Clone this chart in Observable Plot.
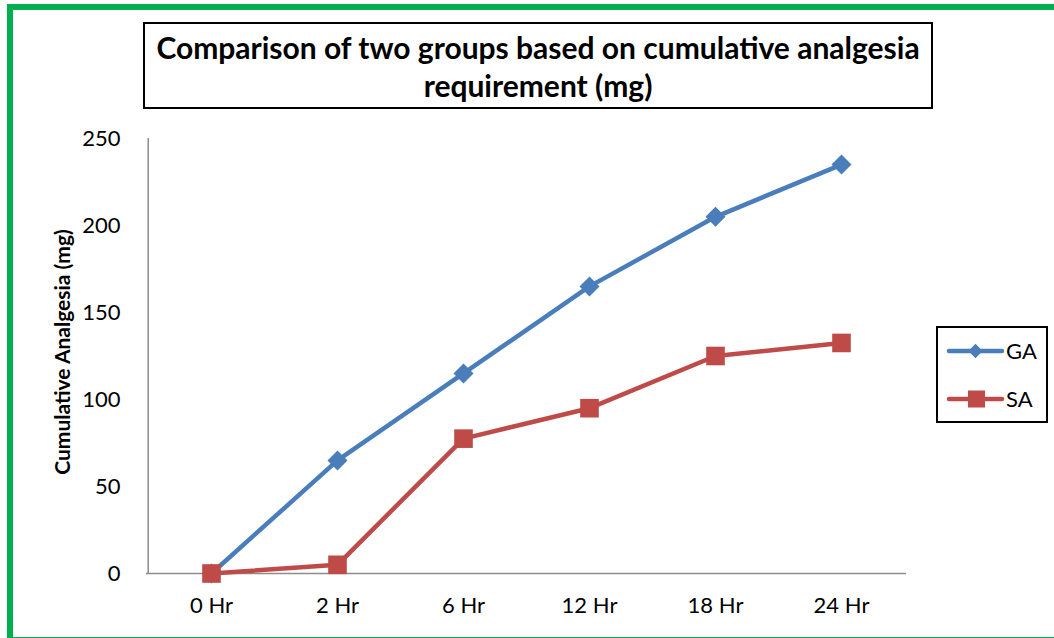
<!DOCTYPE html>
<html>
<head>
<meta charset="utf-8">
<script src="https://cdn.jsdelivr.net/npm/d3@7"></script>
<script src="https://cdn.jsdelivr.net/npm/@observablehq/plot@0.6"></script>
<style>
  html, body { margin: 0; padding: 0; background: #fff; }
  #wrap { position: relative; width: 1054px; height: 638px; overflow: hidden; font-family: Lato, "Open Sans", sans-serif; }
  #frame { position: absolute; left: 7px; top: 4px; width: 1100px; height: 627px; border-top: 6px solid #00b050; border-left: 6px solid #00b050; border-bottom: 2px solid #00b050; }
  #title { position: absolute; left: 143px; top: 22px; width: 786px; height: 83px; border: 2px solid #000; box-sizing: content-box; display: flex; align-items: center; justify-content: center; text-align: center; font-weight: bold; font-size: 30px; line-height: 38px; color: #000; white-space: nowrap; }
  #legend { position: absolute; left: 936px; top: 326px; width: 108px; height: 93px; border: 2px solid #000; }
  #chart { position: absolute; left: 0; top: 0; }
  #ylabel { position: absolute; left: 61px; top: 352px; transform: translate(-50%, -50%) rotate(-90deg); white-space: nowrap; font-weight: bold; font-size: 21px; color: #000; }
</style>
</head>
<body>
<div id="wrap">
  <div id="frame"></div>
  <div id="chart"></div>
  <div id="title">Comparison of two groups based on cumulative analgesia<br>requirement (mg)</div>
  <div id="ylabel">Cumulative Analgesia (mg)</div>
  <div id="legend"></div>
</div>
<script>
const categories = ["0 Hr", "2 Hr", "6 Hr", "12 Hr", "18 Hr", "24 Hr"];
const gaValues = [0, 65, 115, 165, 205, 235];
const saValues = [0, 5, 77.5, 95, 125, 132.5];
const yTicks = [0, 50, 100, 150, 200, 250];
const seriesNames = ["GA", "SA"];
const seriesColors = ["#4a7ebb", "#be4b48"];

const ga = categories.map((c, i) => ({ cat: c, value: gaValues[i], series: "GA" }));
const sa = categories.map((c, i) => ({ cat: c, value: saValues[i], series: "SA" }));

const chart = Plot.plot({
  width: 1054,
  height: 638,
  marginLeft: 146,
  marginRight: 148,
  marginTop: 138,
  marginBottom: 65,
  style: { fontFamily: "Lato, 'Open Sans', sans-serif", fontSize: "22px", color: "#000", background: "transparent" },
  x: { type: "band", domain: categories, padding: 0, label: null },
  y: { domain: [0, 250], label: null },
  marks: [
    Plot.axisY({ ticks: yTicks, tickSize: 0, tickPadding: 26, fontSize: 22, label: null }),
    Plot.axisX({ tickSize: 0, tickPadding: 24, fontSize: 22, label: null }),
    Plot.ruleX([0], { x: () => categories[0], dx: -63.3, y1: 0, y2: 250, stroke: "#8c8c8c", strokeWidth: 1.5 }),
    Plot.ruleY([0], { stroke: "#8c8c8c", strokeWidth: 1.5 }),
    Plot.line(ga, { x: "cat", y: "value", stroke: seriesColors[0], strokeWidth: 4.5, strokeLinejoin: "round", strokeLinecap: "round" }),
    Plot.line(sa, { x: "cat", y: "value", stroke: seriesColors[1], strokeWidth: 4.5, strokeLinejoin: "round", strokeLinecap: "round" }),
    Plot.dot(ga, { x: "cat", y: "value", symbol: "diamond2", r: 9, fill: seriesColors[0], stroke: null }),
    Plot.dot(sa, { x: "cat", y: "value", symbol: "square", r: 10.5, fill: seriesColors[1], stroke: null })
  ]
});
document.getElementById("chart").appendChild(chart);

// Legend
const lg = d3.select("#legend").append("svg").attr("width", 108).attr("height", 93);
seriesNames.forEach((name, i) => {
  const cy = 23 + i * 48;
  const g = lg.append("g");
  g.append("line").attr("x1", 11).attr("x2", 64).attr("y1", cy).attr("y2", cy)
    .attr("stroke", seriesColors[i]).attr("stroke-width", 4.5).attr("stroke-linecap", "round");
  if (i === 0) {
    g.append("path").attr("d", d3.symbol(d3.symbolDiamond2, 130)()).attr("transform", `translate(37.5,${cy})`).attr("fill", seriesColors[i]);
  } else {
    g.append("rect").attr("x", 30).attr("y", cy - 8.5).attr("width", 17).attr("height", 17).attr("fill", seriesColors[i]);
  }
  g.append("text").attr("x", 68).attr("y", cy).attr("dy", "0.36em").attr("font-size", 22)
    .attr("font-family", "Lato, 'Open Sans', sans-serif").attr("fill", "#000").text(name);
});
</script>
</body>
</html>
